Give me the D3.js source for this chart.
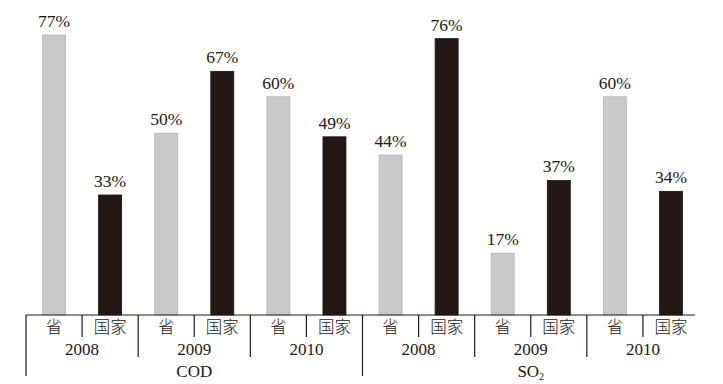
<!DOCTYPE html>
<html>
<head>
<meta charset="utf-8">
<script src="https://cdn.jsdelivr.net/npm/d3@7"></script>
<style>
  body { margin: 0; background: #fff; }
  text { fill: #231815; }
  .num { font-family: "Liberation Serif", "DejaVu Serif", serif; font-size: 17.5px; }
  .cat { font-family: "Noto Sans CJK SC", sans-serif; font-size: 16.5px; font-weight: 300; }
  .yr  { font-family: "Liberation Serif", serif; font-size: 17px; }
</style>
</head>
<body>
<div class="graph"></div>
<script>
// data
var pollutants = ["COD", "SO2"];
var years = ["2008", "2009", "2010"];
var levels = ["省", "国家"];
var provinceRates = [77, 50, 60, 44, 17, 60];   // 省, per pollutant x year
var nationalRates = [33, 67, 49, 76, 37, 34];   // 国家

var width = 723, height = 384;
var baseY = 315;

// flat list of bars, one per pollutant/year/level
var bars = [];
pollutants.forEach(function(p, pi) {
    years.forEach(function(yr, yi) {
        var i = pi * years.length + yi;
        bars.push({key: p + "|" + yr + "|" + levels[0], p: p, year: yr, level: levels[0], value: provinceRates[i]});
        bars.push({key: p + "|" + yr + "|" + levels[1], p: p, year: yr, level: levels[1], value: nationalRates[i]});
    });
});

var x = d3.scaleBand()
    .domain(bars.map(function(d) { return d.key; }))
    .range([26, 699])
    .padding(0);

var y = d3.scaleLinear().domain([0, 77]).range([baseY, 35]);

var barW = x.bandwidth() * 0.41;

var svg = d3.select(".graph").append("svg")
    .attr("width", width)
    .attr("height", height);

// bars
svg.selectAll(".bar").data(bars).enter().append("rect")
    .attr("class", "bar")
    .attr("x", function(d) { return x(d.key) + (x.bandwidth() - barW) / 2; })
    .attr("y", function(d) { return y(d.value); })
    .attr("width", barW)
    .attr("height", function(d) { return baseY - y(d.value); })
    .attr("fill", function(d) { return d.level === "省" ? "#c9c9c9" : "#231815"; })
    .attr("stroke", function(d) { return d.level === "省" ? "#b4b4b4" : "#1a1210"; })
    .attr("stroke-width", 0.8);

// value labels
svg.selectAll(".val").data(bars).enter().append("text")
    .attr("class", "num")
    .attr("x", function(d) { return x(d.key) + x.bandwidth() / 2; })
    .attr("y", function(d) { return y(d.value) - 8; })
    .attr("text-anchor", "middle")
    .text(function(d) { return d.value + "%"; });

// axis line
var axis = svg.append("g").attr("stroke", "#231815").attr("stroke-width", 1.2);
axis.append("line")
    .attr("x1", x.range()[0]).attr("x2", x.range()[1] - 4)
    .attr("y1", baseY).attr("y2", baseY);

// separators: level, year, pollutant
bars.forEach(function(d, i) {
    var x0 = x(d.key);
    var bottom;
    if (i % 6 === 0) bottom = 376;
    else if (i % 2 === 0) bottom = 357;
    else bottom = 337;
    axis.append("line")
        .attr("x1", x0).attr("x2", x0)
        .attr("y1", baseY).attr("y2", bottom);
});

// level labels
svg.selectAll(".cat").data(bars).enter().append("text")
    .attr("class", "cat")
    .attr("x", function(d) { return x(d.key) + x.bandwidth() / 2; })
    .attr("y", 333)
    .attr("text-anchor", "middle")
    .text(function(d) { return d.level; });

// year labels
var yearKeys = bars.filter(function(d, i) { return i % 2 === 0; });
svg.selectAll(".yr").data(yearKeys).enter().append("text")
    .attr("class", "yr")
    .attr("x", function(d) { return x(d.key) + x.bandwidth(); })
    .attr("y", 355)
    .attr("text-anchor", "middle")
    .text(function(d) { return d.year; });

// pollutant labels
pollutants.forEach(function(p, pi) {
    var first = bars[pi * 6];
    var t = svg.append("text")
        .attr("class", "yr")
        .attr("x", x(first.key) + x.bandwidth() * 3)
        .attr("y", 377)
        .attr("text-anchor", "middle");
    if (p === "SO2") {
        t.append("tspan").text("SO");
        t.append("tspan").attr("font-size", "10px").attr("dy", 3).text("2");
    } else {
        t.text(p);
    }
});
</script>
</body>
</html>
